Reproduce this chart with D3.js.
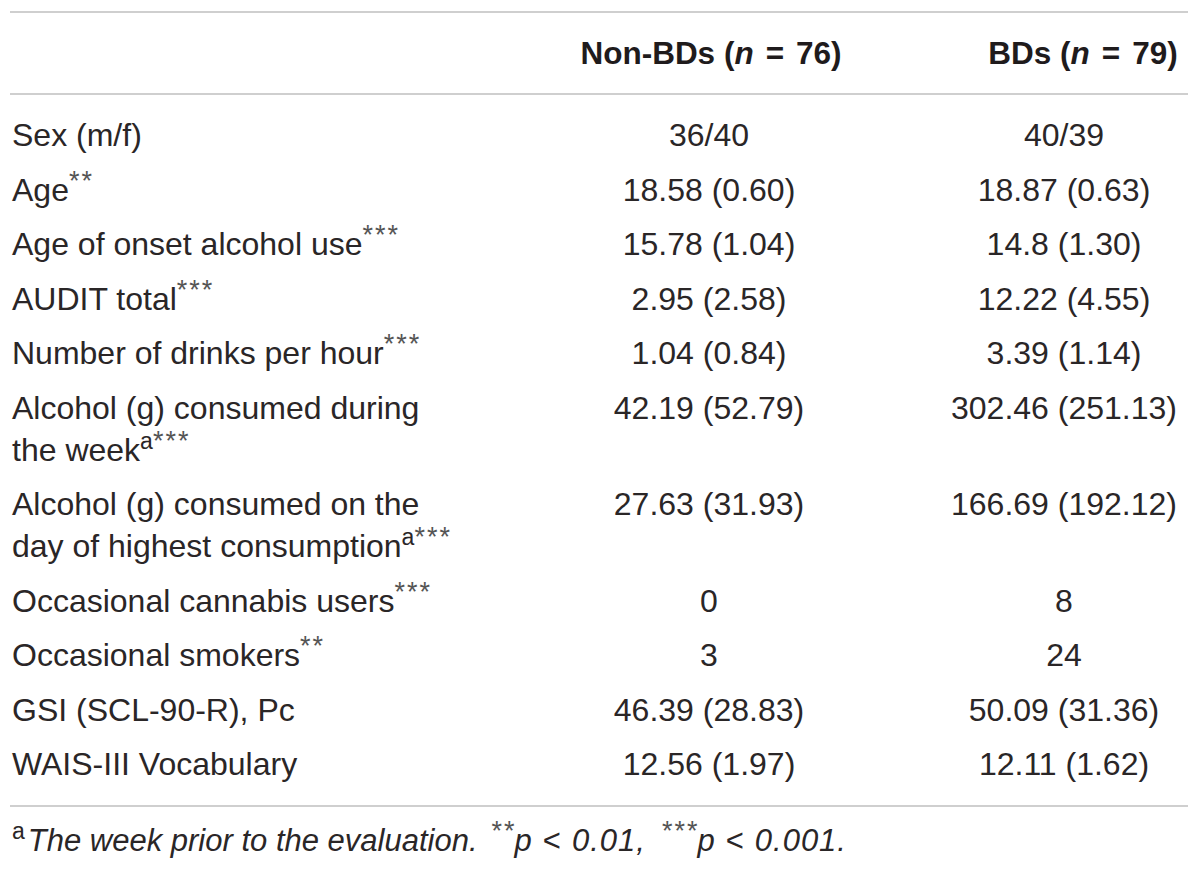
<!DOCTYPE html>
<html><head><meta charset="utf-8">
<script src="https://cdn.jsdelivr.net/npm/d3@7"></script>
<style>html,body{margin:0;padding:0;background:#fff;}svg{display:block;}</style>
</head><body>
<svg id="t" width="1200" height="870"></svg>
<script>
// ---- data ----
const columns = ["Non-BDs", "BDs"];
const columnN = [76, 79];
const rowLabels = [
  "Sex (m/f)", "Age", "Age of onset alcohol use", "AUDIT total",
  "Number of drinks per hour", "Alcohol (g) consumed during|the week",
  "Alcohol (g) consumed on the|day of highest consumption",
  "Occasional cannabis users", "Occasional smokers",
  "GSI (SCL-90-R), Pc", "WAIS-III Vocabulary"
];
const rowFootA = [false, false, false, false, false, true, true, false, false, false, false];
const rowStars = ["", "**", "***", "***", "***", "***", "***", "***", "**", "", ""];
const nonBDs = ["36/40", "18.58 (0.60)", "15.78 (1.04)", "2.95 (2.58)", "1.04 (0.84)",
  "42.19 (52.79)", "27.63 (31.93)", "0", "3", "46.39 (28.83)", "12.56 (1.97)"];
const BDs = ["40/39", "18.87 (0.63)", "14.8 (1.30)", "12.22 (4.55)", "3.39 (1.14)",
  "302.46 (251.13)", "166.69 (192.12)", "8", "24", "50.09 (31.36)", "12.11 (1.62)"];
const footnoteA = "The week prior to the evaluation.";
const pLevels = [["**", "0.01,"], ["***", "0.001."]];

// ---- layout ----
const svg = d3.select("#t");
const FONT = "'Liberation Sans', Arial, sans-serif";
const textColor = "#2a2627";
const lineColor = "#cfcfcf";
const fs = 32;

let cum = 0;
const rowStart = rowLabels.map(l => { const s = cum; cum += l.split("|").length; return s; });
const rowY = rowLabels.map((l, i) => 135 + i * 54.5 + (rowStart[i] - i) * 42);

const colX = d3.scaleOrdinal().domain(columns).range([709, 1064]);
const headX = d3.scaleOrdinal().domain(columns).range([711, 1083]);

function hline(yy) {
  svg.append("line").attr("x1", 10).attr("x2", 1188).attr("y1", yy).attr("y2", yy)
    .attr("stroke", lineColor).attr("stroke-width", 2);
}
hline(12); hline(94); hline(806);

// header
columns.forEach((c, i) => {
  const t = svg.append("text").attr("x", headX(c)).attr("y", 53)
    .attr("text-anchor", "middle").attr("dominant-baseline", "central")
    .attr("font-family", FONT).attr("font-size", 31.5).attr("font-weight", "bold").attr("fill", "#1f1b1c");
  t.append("tspan").text(c + " (");
  t.append("tspan").attr("font-style", "italic").text("n");
  t.append("tspan").attr("dx", 12).text("=");
  t.append("tspan").attr("dx", 12).text(columnN[i] + ")");
});

// body rows
const g = svg.append("g").attr("font-family", FONT).attr("font-size", fs).attr("fill", textColor);
rowLabels.forEach((lab, i) => {
  const lines = lab.split("|");
  lines.forEach((ln, k) => {
    const t = g.append("text").attr("x", 12).attr("y", rowY[i] + k * 42).attr("dominant-baseline", "central");
    t.append("tspan").text(ln);
    if (k === lines.length - 1) {
      if (rowFootA[i]) t.append("tspan").attr("font-size", 23).attr("dy", -9).text("a");
      if (rowStars[i]) t.append("tspan").attr("font-size", 27).attr("fill", "#555")
        .attr("letter-spacing", 2).attr("dy", rowFootA[i] ? 0 : -9).text(rowStars[i]);
    }
  });
  g.append("text").attr("x", colX(columns[0])).attr("y", rowY[i]).attr("text-anchor", "middle")
    .attr("dominant-baseline", "central").text(nonBDs[i]);
  g.append("text").attr("x", colX(columns[1])).attr("y", rowY[i]).attr("text-anchor", "middle")
    .attr("dominant-baseline", "central").text(BDs[i]);
});

// footnote
const f = svg.append("text").attr("x", 12).attr("y", 840).attr("dominant-baseline", "central")
  .attr("font-family", FONT).attr("font-size", 31).attr("fill", textColor);
f.append("tspan").attr("font-size", 23).attr("dy", -9).text("a");
f.append("tspan").attr("font-style", "italic").attr("dx", 3).attr("dy", 9).text(footnoteA);
pLevels.forEach(([stars, val], i) => {
  f.append("tspan").attr("font-size", 27).attr("fill", "#555").attr("letter-spacing", 2)
    .attr("dx", i === 0 ? 14 : 16).attr("dy", -9).text(stars);
  f.append("tspan").attr("font-style", "italic").attr("dx", -2).attr("dy", 9).text("p");
  f.append("tspan").attr("dx", 11).text("<");
  f.append("tspan").attr("font-style", "italic").attr("letter-spacing", 1).attr("dx", 11).text(val);
});
</script>
</body></html>
